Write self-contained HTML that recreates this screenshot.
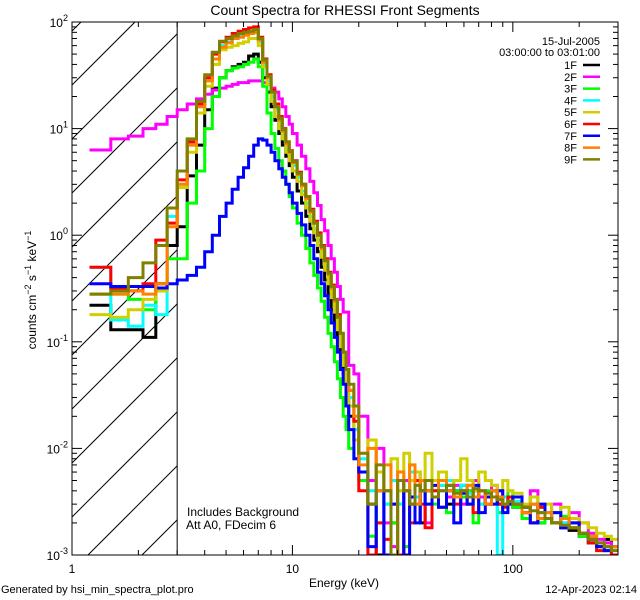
<!DOCTYPE html>
<html><head><meta charset="utf-8"><style>
html,body{margin:0;padding:0;background:#fff;overflow:hidden;width:640px;height:600px;}
svg{display:block;}
svg text{font-family:"Liberation Sans",sans-serif;}
</style></head><body>
<svg id="chart" width="640" height="600" xmlns="http://www.w3.org/2000/svg">
<rect width="640" height="600" fill="#fff"/>
<text x="345" y="15" font-size="14" text-anchor="middle">Count Spectra for RHESSI Front Segments</text>
<g id="hatch"></g>
<g id="series"></g>
<g id="axes"></g>
<text x="344" y="587" font-size="12" text-anchor="middle">Energy (keV)</text>
<text transform="translate(36,290) rotate(-90)" font-size="12" text-anchor="middle">counts cm<tspan dy="-5" font-size="9">−2</tspan><tspan dy="5"> s</tspan><tspan dy="-5" font-size="9">−1</tspan><tspan dy="5"> keV</tspan><tspan dy="-5" font-size="9">−1</tspan></text>
<text x="187" y="516" font-size="12">Includes Background</text>
<text x="186" y="529" font-size="12">Att A0, FDecim 6</text>
<text x="600" y="45" font-size="11" text-anchor="end">15-Jul-2005</text>
<text x="600" y="56" font-size="11" text-anchor="end">03:00:00 to 03:01:00</text>
<g id="legend"></g>
<text x="1" y="593" font-size="11">Generated by hsi_min_spectra_plot.pro</text>
<text x="637" y="593" font-size="11" text-anchor="end">12-Apr-2023 02:14</text>
</svg>
<script>
const edges=[1.2,1.5,1.8,2.1,2.4,2.7,3.0,3.33,3.67,4.0,4.33,4.67,5.0,5.33,5.67,6.0,6.33,6.67,7.0,7.33,7.67,8.0,8.33,8.67,9.0,9.33,9.67,10,10.5,11,11.5,12,12.5,13,13.5,14,14.5,15,15.5,16,16.5,17,17.5,18,19,20,22,24,26,28,30,32,34,36,38,40,43,46,50,54,58,62,66,70,75,80,85,90,95,100,110,120,130,140,150,165,180,200,220,240,260,280,300];
const names=["1F","2F","3F","4F","5F","6F","7F","8F","9F"];
const colors=["#000000","#ff00ff","#00ff00","#00ffff","#d0d000","#ff0000","#0000ff","#ff8000","#808000"];
const s1=[0.22,0.13,0.13,0.11,0.35,0.8,1.2,3.6,7,15,24,30,35,38,40,42,48,50,42,30,22,16,12,9,7,5.5,4.5,3.5,2.6,2.0,1.5,1.15,0.9,0.7,0.5,0.38,0.28,0.2,0.15,0.11,0.08,0.05,0.03,0.02,0.012,
0.006,0.003,0.0008,0.004,0.002,0.0005,0.004,0.003,0.005,0.002,0.004,0.0035,0.005,0.003,0.004,0.0045,0.003,0.004,0.0035,0.003,0.004,0.003,0.0035,0.003,0.0028,0.0025,0.003,0.002,0.0022,0.002,0.0018,0.0017,0.0015,0.0013,0.0012,0.0014,0.0012];
const s2=[6.3,8,8.5,10,11,13,15,17,19,21,23,24,25,26,27,27,28,28,28,27,26,24,22,19,16,13,11,9,7,5.5,4.2,3.2,2.5,1.9,1.4,1.1,0.8,0.6,0.45,0.33,0.25,0.19,0.19,0.06,0.05,
0.02,0.005,0.01,0.002,0.0012,0.0007,0.005,0.003,0.006,0.004,0.002,0.005,0.004,0.0035,0.0045,0.003,0.004,0.005,0.0035,0.003,0.0045,0.004,0.003,0.0035,0.003,0.0028,0.004,0.0025,0.0022,0.003,0.002,0.0025,0.002,0.0016,0.0014,0.0013,0.0012];
const s3=[0.28,0.28,0.25,0.2,0.3,0.6,0.6,2,4,10,20,30,35,37,38,40,42,45,38,25,14,9,6.5,5,4,3,2.3,1.8,1.3,1.0,0.75,0.55,0.42,0.32,0.24,0.17,0.12,0.09,0.065,0.045,0.03,0.02,0.015,0.01,0.008,
0.005,0.0015,0.006,0.003,0.002,0.004,0.0012,0.005,0.003,0.004,0.005,0.003,0.0045,0.0025,0.004,0.0035,0.004,0.002,0.003,0.004,0.0035,0.0025,0.003,0.004,0.0028,0.0022,0.0035,0.002,0.0025,0.002,0.0023,0.0018,0.0015,0.0014,0.0012,0.0011,0.001];
const s4=[0.5,0.16,0.14,0.22,0.18,1.5,3,7,16,28,45,60,65,70,75,78,80,80,65,40,28,20,15,11,8.5,6.5,5.5,4.5,3.5,2.6,2,1.5,1.15,0.9,0.7,0.52,0.4,0.3,0.22,0.15,0.1,0.07,0.045,0.03,0.015,
0.008,0.004,0.006,0.003,0.005,0.003,0.004,0.006,0.0035,0.005,0.003,0.004,0.0045,0.005,0.0035,0.0045,0.0038,0.004,0.003,0.0035,0.004,0.0005,0.0035,0.003,0.0032,0.0028,0.003,0.0025,0.0022,0.0025,0.002,0.0018,0.0016,0.0015,0.0013,0.0012,0.0012];
const s5=[0.18,0.17,0.2,0.25,0.3,1.3,2.8,6,14,25,40,55,58,60,63,65,70,70,60,38,26,18,13,10,8,6,5,4,3.2,2.4,1.8,1.35,1.05,0.8,0.62,0.47,0.35,0.26,0.19,0.13,0.09,0.06,0.04,0.025,0.012,
0.009,0.012,0.006,0.004,0.008,0.004,0.009,0.005,0.006,0.004,0.009,0.005,0.006,0.004,0.005,0.008,0.005,0.004,0.006,0.005,0.0045,0.004,0.005,0.004,0.0038,0.003,0.0035,0.0028,0.003,0.0025,0.0028,0.0022,0.002,0.0018,0.0016,0.0015,0.0014];
const s6=[0.5,0.32,0.3,0.35,0.9,1.3,3.3,7.5,17,30,50,65,72,78,82,85,88,90,72,45,32,23,17,13,10,7.5,6.2,5,3.9,3,2.3,1.75,1.35,1.05,0.8,0.6,0.45,0.34,0.25,0.18,0.12,0.08,0.055,0.035,0.018,
0.004,0.0006,0.002,0.0014,0.003,0.0009,0.004,0.002,0.005,0.003,0.0018,0.004,0.0028,0.0045,0.003,0.004,0.0035,0.0025,0.004,0.003,0.0035,0.003,0.0028,0.0035,0.003,0.0025,0.002,0.0028,0.0022,0.002,0.0018,0.002,0.0016,0.0013,0.0011,0.0012,0.001];
const s7=[0.35,0.33,0.33,0.33,0.32,0.35,0.38,0.42,0.5,0.7,1,1.5,2,2.7,3.5,4.3,5.5,7,8,7.8,7,6,5,4.2,3.5,3,2.5,2,1.6,1.25,1,0.8,0.6,0.45,0.35,0.27,0.2,0.15,0.11,0.08,0.055,0.04,0.025,0.015,0.008,
0.006,0.0012,0.004,0.0008,0.003,0.005,0.0009,0.0035,0.002,0.004,0.003,0.0045,0.0028,0.004,0.002,0.0038,0.003,0.0045,0.0025,0.0035,0.003,0.004,0.0025,0.003,0.0035,0.0028,0.002,0.003,0.0022,0.0025,0.0018,0.002,0.0016,0.0014,0.0012,0.0011,0.0012];
const s8=[0.28,0.28,0.3,0.28,0.35,1.2,3,7,16,28,45,58,64,70,72,75,78,80,68,42,30,22,16,12,9.5,7.2,6,4.8,3.7,2.9,2.2,1.65,1.3,1.0,0.75,0.57,0.43,0.32,0.24,0.17,0.12,0.08,0.055,0.035,0.02,
0.007,0.01,0.004,0.007,0.0006,0.006,0.004,0.007,0.003,0.005,0.004,0.0035,0.005,0.004,0.0035,0.004,0.0045,0.0035,0.004,0.003,0.004,0.0035,0.003,0.0032,0.003,0.0025,0.003,0.0022,0.0025,0.002,0.0022,0.0018,0.0016,0.0015,0.0013,0.0012,0.0012];
const s9=[0.28,0.3,0.4,0.55,0.8,1.8,4,8,18,32,52,66,70,74,78,80,82,85,70,44,31,22,16,12.5,9.8,7.5,6.1,4.9,3.8,3,2.3,1.7,1.3,1.0,0.78,0.58,0.44,0.33,0.25,0.17,0.12,0.08,0.055,0.04,0.025,
0.009,0.003,0.007,0.004,0.0008,0.005,0.004,0.003,0.0045,0.004,0.005,0.0035,0.004,0.0045,0.0038,0.004,0.0035,0.0042,0.004,0.0038,0.0035,0.0033,0.003,0.0032,0.003,0.0028,0.0026,0.0025,0.0022,0.002,0.0019,0.0018,0.0016,0.0014,0.0013,0.0012,0.0011];
const seriesValues=[s1,s2,s3,s4,s5,s6,s7,s8,s9];
const yTickExps=[-3,-2,-1,0,1,2];
const xTickLabels=[1,10,100];

const NS="http://www.w3.org/2000/svg";
const L=72,R=618,T=22,B=555;
const xMin=1,xMax=300,yMin=1e-3,yMax=100;
const xs=v=>L+(Math.log10(v)-Math.log10(xMin))/(Math.log10(xMax)-Math.log10(xMin))*(R-L);
const ys=v=>B-(Math.log10(v)-Math.log10(yMin))/(Math.log10(yMax)-Math.log10(yMin))*(B-T);
function mk(tag,attrs,parent){const e=document.createElementNS(NS,tag);for(const k in attrs)e.setAttribute(k,attrs[k]);parent.appendChild(e);return e;}

const svg=document.getElementById('chart');
const defs=mk('defs',{},svg);
const cp=mk('clipPath',{id:'plotclip'},defs);
mk('rect',{x:L,y:T,width:R-L,height:B-T},cp);

const hg=document.getElementById('hatch');
const X3=xs(3);
for(let c=T+9;c<B+(X3-L);c+=54){
  // line: y = c - (x - L)
  const xa=Math.max(L,L+(c-B)), xb=Math.min(X3,L+(c-T));
  if(xb<=xa) continue;
  const ln=mk('line',{x1:xa,y1:c-(xa-L),x2:xb,y2:c-(xb-L),stroke:'#000','stroke-width':1},hg);
  
  
}
const vl=mk('line',{x1:X3,y1:T,x2:X3,y2:B,stroke:'#000','stroke-width':1},hg);



const sg=document.getElementById('series');
sg.setAttribute('clip-path','url(#plotclip)');
seriesValues.forEach((vals,si)=>{
  let d='';
  const yc=v=>Math.min(ys(Math.max(v,yMin)),B);
  const n=Math.min(vals.length,edges.length-1);
  for(let i=0;i<n;i++){
    const x0=xs(edges[i]),x1=xs(edges[i+1]),y=yc(vals[i]);
    d+=(i===0?'M':'L')+x0.toFixed(1)+','+y.toFixed(1)+'L'+x1.toFixed(1)+','+y.toFixed(1);
  }
  const p=mk('path',{d:d,fill:'none',stroke:colors[si],'stroke-width':3,'stroke-linejoin':'miter'},sg);
  
  
});

const ag=document.getElementById('axes');
const fr=mk('rect',{x:L,y:T,width:R-L,height:B-T,fill:'none',stroke:'#000','stroke-width':1},ag);


for(let e=0;e<3;e++){for(let m=1;m<10;m++){const v=m*Math.pow(10,e);if(v>xMax)break;const x=xs(v);const len=m===1?10:5;
  mk('line',{x1:x,y1:B,x2:x,y2:B-len,stroke:'#000'},ag);mk('line',{x1:x,y1:T,x2:x,y2:T+len,stroke:'#000'},ag);}}
xTickLabels.forEach(v=>{const t=mk('text',{x:xs(v),y:B+18,'font-size':12,'text-anchor':'middle'},ag);t.textContent=v;
  
  });
for(let e=-3;e<2;e++){for(let m=1;m<10;m++){const v=m*Math.pow(10,e);const y=ys(v);const len=m===1?10:5;
  mk('line',{x1:L,y1:y,x2:L+len,y2:y,stroke:'#000'},ag);mk('line',{x1:R,y1:y,x2:R-len,y2:y,stroke:'#000'},ag);}}
yTickExps.forEach(e=>{const y=ys(Math.pow(10,e));const t=mk('text',{x:L-4,y:y+5,'font-size':12,'text-anchor':'end'},ag);
  const a=document.createElementNS(NS,'tspan');a.textContent='10';t.appendChild(a);
  const b=document.createElementNS(NS,'tspan');b.setAttribute('dy','-6');b.setAttribute('font-size','9');b.textContent=e;t.appendChild(b);
  
  });

const lg=document.getElementById('legend');
names.forEach((n,i)=>{const y=65+i*11.8;
  const t=mk('text',{x:577,y:y+4,'font-size':11,'text-anchor':'end'},lg);t.textContent=n;
  
  
  const l=mk('line',{x1:583,y1:y,x2:600,y2:y,stroke:colors[i],'stroke-width':2.5},lg);
  
  });
</script>
</body></html>
